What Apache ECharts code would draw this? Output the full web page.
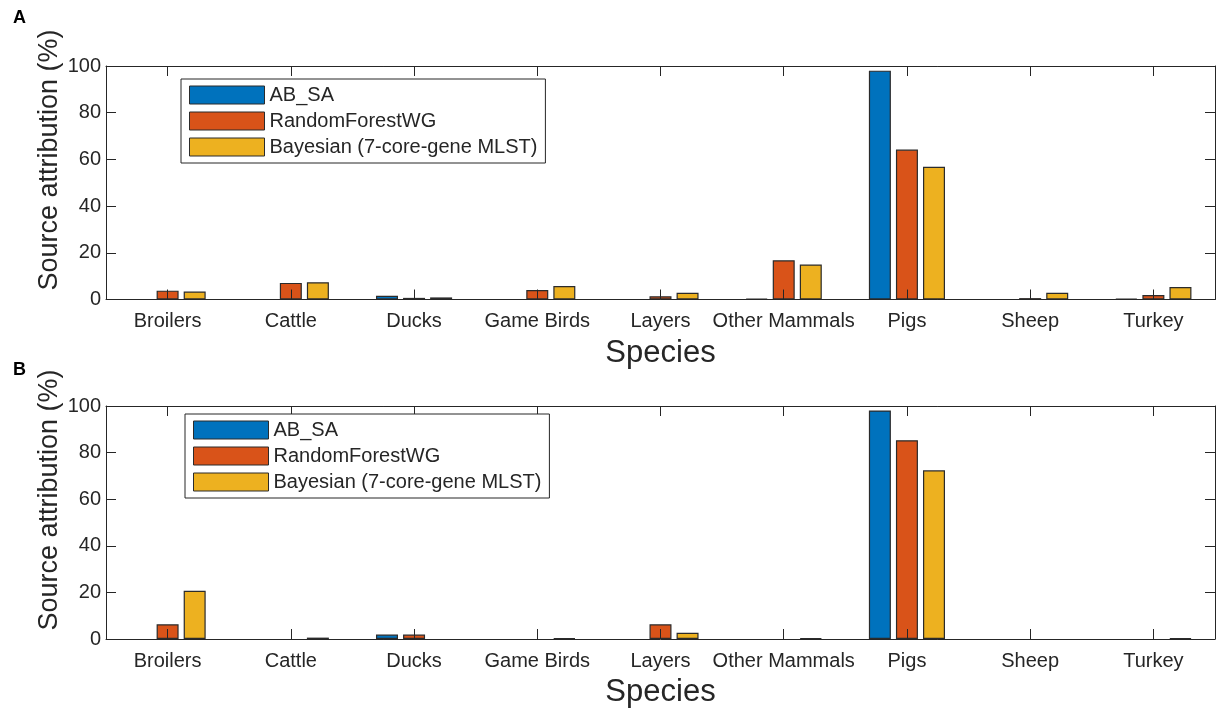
<!DOCTYPE html>
<html>
<head>
<meta charset="utf-8">
<script src="https://cdn.jsdelivr.net/npm/echarts@6/dist/echarts.min.js"></script>
<style>
html,body{margin:0;padding:0;background:#fff;}
#chart{width:1217px;height:709px;}
</style>
</head>
<body>
<div id="chart"></div>
<script>
const categories = ['Broilers','Cattle','Ducks','Game Birds','Layers','Other Mammals','Pigs','Sheep','Turkey'];
const seriesNames = ['AB_SA','RandomForestWG','Bayesian (7-core-gene MLST)'];
const yTicks = [0,20,40,60,80,100];

// Panel A
const aAB_SA  = [null, null, 1.6, null, null, 0.4, 98.0, null, 0.4];
const aRF     = [3.8, 7.1, 0.7, 4.1, 1.4, 16.8, 64.2, 0.6, 1.9];
const aBayes  = [3.4, 7.4, 0.9, 5.8, 2.9, 15.0, 56.8, 2.9, 5.3];

// Panel B
const bAB_SA  = [null, null, 1.9, null, null, null, 98.1, null, null];
const bRF     = [6.3, null, 1.9, null, 6.3, null, 85.3, null, null];
const bBayes  = [20.7, 0.6, null, 0.3, 2.7, 0.3, 72.4, null, 0.3];

const colors = ['#0072BD','#D95319','#EDB120'];
const FONT = '"Liberation Sans", Arial, Helvetica, sans-serif';
const AX = '#262626';

const chart = echarts.init(document.getElementById('chart'));

const grids = [
  {left:106, top:66, width:1109, height:233.5},
  {left:106, top:406, width:1109, height:233}
];

function xAxes(gi){
  const tick = {show:true,inside:true,length:10,interval:0,alignWithLabel:true,lineStyle:{color:AX,width:1}};
  return [
    {gridIndex:gi, type:'category', data:categories, position:'bottom', z:10,
     axisLine:{onZero:false,lineStyle:{color:AX,width:1}},
     axisTick:tick,
     axisLabel:{interval:0,fontSize:20,color:AX,margin:12,fontFamily:FONT},
     name:'Species', nameLocation:'middle', nameGap:38,
     nameTextStyle:{fontSize:31,color:AX,fontFamily:FONT}},
    {gridIndex:gi, type:'category', data:categories, position:'top', z:10,
     axisLine:{onZero:false,lineStyle:{color:AX,width:1}},
     axisTick:tick,
     axisLabel:{show:false}}
  ];
}
function yAxes(gi){
  const tick = {show:true,inside:true,length:10,lineStyle:{color:AX,width:1}};
  return [
    {gridIndex:gi, type:'value', min:yTicks[0], max:yTicks[yTicks.length-1], interval:20, position:'left', z:10,
     axisLine:{show:true,onZero:false,lineStyle:{color:AX,width:1}},
     axisTick:tick,
     axisLabel:{fontSize:20,color:AX,margin:5,fontFamily:FONT},
     splitLine:{show:false}},
    {gridIndex:gi, type:'value', min:yTicks[0], max:yTicks[yTicks.length-1], interval:20, position:'right', z:10,
     axisLine:{show:true,onZero:false,lineStyle:{color:AX,width:1}},
     axisTick:tick,
     axisLabel:{show:false}, splitLine:{show:false}}
  ];
}

function bars(gi, data){
  return data.map((d,i)=>({
    name:seriesNames[i], type:'bar', xAxisIndex:gi*2, yAxisIndex:gi*2, data:d,
    barWidth:22, barGap:'23%', z:2,
    itemStyle:{color:colors[i], borderColor:'#2b2b2b', borderWidth:1.2},
    emphasis:{disabled:true}
  }));
}

function legend(left, top){
  return {
    data:seriesNames, orient:'vertical', left:left, top:top,
    itemWidth:75, itemHeight:18, itemGap:6, padding:[6,8,6,8],
    borderColor:AX, borderWidth:1, backgroundColor:'#fff',
    icon:'rect',
    itemStyle:{borderColor:'#2b2b2b', borderWidth:1},
    textStyle:{fontSize:20, lineHeight:18, color:AX, fontFamily:FONT},
    selectedMode:false, z:20
  };
}

function ytitle(cx, cy){
  return {type:'text', x:cx, y:cy, rotation:Math.PI/2,
    style:{text:'Source attribution (%)', font:'27px '+FONT, fill:AX, align:'center', verticalAlign:'middle'}};
}

chart.setOption({
  animation:false,
  color:colors,
  grid:grids,
  xAxis:[...xAxes(0), ...xAxes(1)],
  yAxis:[...yAxes(0), ...yAxes(1)],
  legend:[legend(181,79), legend(185,414)],
  graphic:[
    {type:'text', left:13, top:9, style:{text:'A', font:'bold 18px '+FONT, fill:'#000'}},
    {type:'text', left:13, top:361, style:{text:'B', font:'bold 18px '+FONT, fill:'#000'}},
    ytitle(50, 160),
    ytitle(50, 500)
  ],
  series:[...bars(0,[aAB_SA,aRF,aBayes]), ...bars(1,[bAB_SA,bRF,bBayes])]
});
</script>
</body>
</html>
